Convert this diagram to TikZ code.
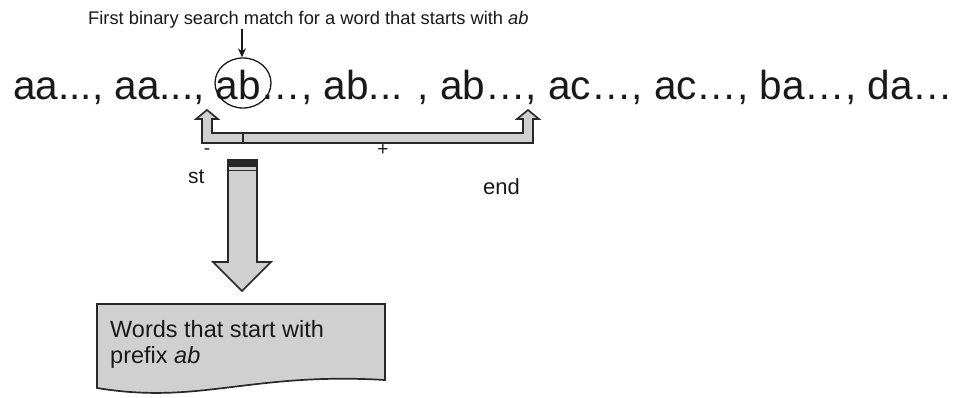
\documentclass[tikz,border=0pt]{standalone}
\usepackage{fontspec}
\setmainfont{Liberation Sans}
\usetikzlibrary{arrows.meta,shapes.geometric}
\definecolor{fillgray}{RGB}{208,208,208}
\definecolor{linegray}{RGB}{40,40,40}
\definecolor{ink}{RGB}{25,25,25}
\tikzset{
  lbl/.style={inner sep=0pt, anchor=base west, text=ink},
  blockshape/.style={draw=linegray, fill=fillgray, line width=1.6pt, line join=miter},
}
\begin{document}
\begin{tikzpicture}[x=1pt,y=-1pt]
\useasboundingbox (0,0) rectangle (959,398);
% title
\node[lbl, font=\fontsize{18.3}{22}\selectfont] (title) at (88,25)
  {First binary search match for a word that starts with \textit{ab}};
% sequence
\node[lbl, font=\fontsize{40.5}{48}\selectfont] (seq) at (13,100)
  {aa..., aa..., ab…, ab... , ab…, ac…, ac…, ba…, da…};
% ellipse around first ab
\node[draw=ink, line width=1.3pt, ellipse, minimum width=56pt, minimum height=50pt, inner sep=0pt] (match) at (243,83) {};
\coordinate (arrtop) at (242,29);
\draw[ink, line width=1.2pt, -{Stealth[length=9pt,width=8pt]}] (arrtop) -- (match.north -| arrtop);
% bracket double arrow
\draw[blockshape] (207,110) -- (218,119) -- (212,119) -- (212,133) -- (523,133) -- (523,119)
  -- (517,119) -- (528,110) -- (539,119) -- (533,119) -- (533,143) -- (202,143)
  -- (202,119) -- (196,119) -- cycle;
\draw[linegray, line width=1.3pt] (243,133) -- (243,143);
\node[lbl, font=\fontsize{19}{22}\selectfont, anchor=center] (minus) at (207,152) {-};
\node[lbl, font=\fontsize{19}{22}\selectfont, anchor=center] (plus) at (383,150) {+};
\node[lbl, font=\fontsize{21}{25}\selectfont] (st) at (188,184) {st};
\node[lbl, font=\fontsize{22}{26}\selectfont] (end) at (483,195) {end};
% down block arrow
\draw[blockshape] (228,160) -- (257,160) -- (257,262) -- (271,262) -- (242,291) -- (213,262)
  -- (228,262) -- cycle;
\fill[linegray] (228,160) rectangle (257,167);
\draw[linegray, line width=1.1pt] (228,170.5) -- (257,170.5);
% document shape
\draw[blockshape, line width=1.7pt] (97,304) -- (385,304) -- (385,380)
  .. controls (250,372) and (200,405) .. (97,388) -- cycle;
\node[inner sep=0pt, anchor=north west, align=left, text=ink,
  font=\fontsize{23.5}{26}\selectfont] (doc) at (110,320)
  {Words that start with\\prefix \textit{ab}};
\end{tikzpicture}
\end{document}
